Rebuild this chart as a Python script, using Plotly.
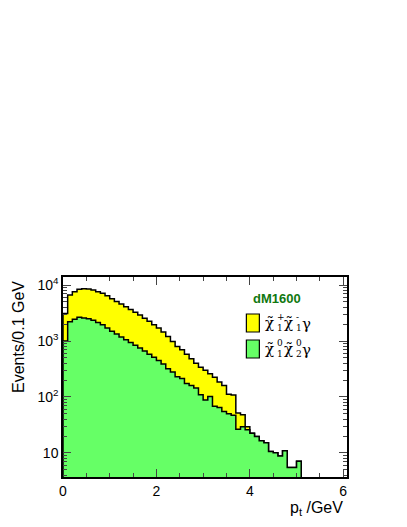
import plotly.graph_objects as go

# ---- data (events per 0.1 GeV bin, bins start at 0.0 GeV) ----
bin_width = 0.1
# total (chargino pair + photon stacked on neutralino) -> yellow
total_vals = [3100, 6600, 7600, 8400, 8600, 8500, 8150, 7600, 7100, 6400,
              5700, 5100, 4600, 4100, 3650, 3250, 2900, 2550, 2250, 1950,
              1700, 1450, 1200, 980, 800, 700, 580, 480, 400, 340,
              300, 260, 225, 185, 160, 112, 108, 52, 48, 29.5,
              22.5, 19.6, 16.6, 15.3, 10.6, 10.1, 8.8, 11, 5.5, 5.5, 7.1]
# neutralino chi1^0 chi2^0 gamma -> green
neut_vals = [1000, 2200, 2450, 2650, 2580, 2500, 2350, 2150, 1950, 1700,
             1500, 1330, 1180, 1050, 940, 840, 750, 660, 580, 510,
             450, 390, 320, 280, 230, 215, 175, 160, 145, 110,
             88, 102, 68, 65, 55, 50, 47, 26.5, 29.5, 26,
             22.5, 19.6, 16.6, 15.3, 10.6, 10.1, 8.8, 11, 5.5, 5.5, 7.1]
x_ticks = [0, 2, 4, 6]
y_ticks = [10, 100, 1000, 10000]
y_ticktext = ["10", "10<sup>2</sup>", "10<sup>3</sup>", "10<sup>4</sup>"]
label_title = "dM1600"

BASE = 1.0  # below visible range

# the page body has an 8px default margin: figure placed at (8, 8)
OFF = 8
PL, PR, PT, PB = 62.5, 346.7, 277.0, 477.0   # plot area in window pixels
W, H = 391, 511


def step_polygon(vals):
    xs, ys = [0.0], [BASE]
    for i, v in enumerate(vals):
        x0 = round(i * bin_width, 3)
        x1 = round((i + 1) * bin_width, 3)
        xs += [x0, x1]
        ys += [v, v]
    xs.append(round(len(vals) * bin_width, 3))
    ys.append(BASE)
    return xs, ys


fig = go.Figure()
for vals, col in [(total_vals, "#ffff00"), (neut_vals, "#66ff66")]:
    xs, ys = step_polygon(vals)
    fig.add_trace(go.Scatter(x=xs, y=ys, mode="lines", fill="toself",
                             fillcolor=col, line=dict(color="black", width=1.5),
                             hoverinfo="skip", showlegend=False))

font_main = "Liberation Sans, Arial, sans-serif"

fig.update_layout(
    width=W, height=H,
    margin=dict(l=PL - OFF, r=W - (PR - OFF), t=PT - OFF, b=H - (PB - OFF)),
    paper_bgcolor="white", plot_bgcolor="white",
    font=dict(family=font_main, size=14, color="black"),
    xaxis=dict(range=[0, 6.08], tickvals=x_ticks, ticks="inside", ticklen=8,
               tickwidth=1, showline=True, linecolor="black", linewidth=1.5,
               mirror="ticks", showgrid=False, zeroline=False,
               minor=dict(dtick=0.5, ticks="inside", ticklen=4, tickwidth=1,
                          showgrid=False),
               tickfont=dict(size=14)),
    yaxis=dict(type="log", range=[0.571, 4.143], tickvals=y_ticks,
               ticktext=y_ticktext, ticks="inside", ticklen=8, tickwidth=1,
               showline=True, linecolor="black", linewidth=1.5,
               mirror="ticks", showgrid=False, zeroline=False,
               minor=dict(tickvals=[m * 10 ** d for d in range(0, 5) for m in range(2, 10)],
                          ticks="inside", ticklen=4, tickwidth=1, showgrid=False),
               tickfont=dict(size=14)),
)


def px2paper(X, Y):
    return (X - PL) / (PR - PL), (PB - Y) / (PB - PT)


def note(text, X, Y, size, xanchor="center", **kw):
    px, py = px2paper(X, Y)
    d = dict(text=text, x=px, y=py, xref="paper", yref="paper", xanchor=xanchor,
             yanchor="middle", showarrow=False, font=dict(size=size))
    d.update(kw)
    return d


annots = []
annots.append(note("Events/0.1 GeV", 17.5, 337, 16, textangle=-90))
annots.append(note("p<sub>t</sub> /GeV", 345, 508, 16, xanchor="right"))
annots.append(note("<b>%s</b>" % label_title, 277, 298, 13,
                   font=dict(size=13, color="#107810")))

shapes = []
for (y0, y1, col) in [(314, 332, "#ffff00"), (340, 358, "#66ff66")]:
    x0p, y0p = px2paper(246, y1)
    x1p, y1p = px2paper(259, y0)
    shapes.append(dict(type="rect", xref="paper", yref="paper", x0=x0p, x1=x1p,
                       y0=y0p, y1=y1p, fillcolor=col, line=dict(color="black", width=1.2)))

serif = "DejaVu Serif, Liberation Serif, serif"


def label(yc, sup1, sub1, sup2, sub2):
    items = [("χ̃", 269, yc, 15, "center"),
             (sup1, 274.5, yc - 6, 9, "left"), (sub1, 274.5, yc + 5, 9, "left"),
             ("χ̃", 288, yc, 15, "center"),
             (sup2, 293.5, yc - 6, 9, "left"), (sub2, 293.5, yc + 5, 9, "left"),
             ("γ", 306, yc + 1, 15, "center")]
    return [note(t, X, Y, s, xanchor=anc, font=dict(size=s, family=serif))
            for t, X, Y, s, anc in items]


annots += label(323, "+", "1", "-", "1")
annots += label(349, "0", "1", "0", "2")

fig.update_layout(annotations=annots, shapes=shapes)
fig.write_html("out.html")
